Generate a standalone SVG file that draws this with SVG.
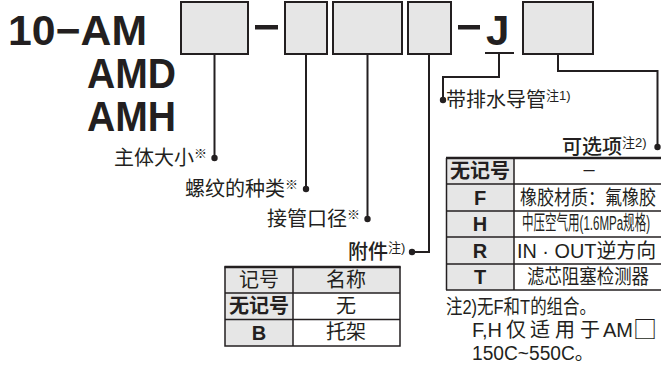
<svg xmlns="http://www.w3.org/2000/svg" width="661" height="367" viewBox="0 0 661 367">
<style>
.box{fill:#e6e6e6;stroke:#231f20;stroke-width:2}
.ln{fill:none;stroke:#231f20;stroke-width:2}
.dot{fill:#231f20}
.big{font-family:"Liberation Sans",Arial,sans-serif;font-weight:bold;font-size:42px;fill:#231f20}
.t{font-family:"Liberation Sans","Noto Sans CJK SC",sans-serif;font-size:20px;fill:#231f20}
.cjk{font-family:"Noto Sans CJK SC",sans-serif}
.b{font-weight:bold}
.m{font-weight:500}
.c{text-anchor:middle}
.sup{font-size:13px;font-weight:normal}
.g{fill:#e6e6e6}
.w{fill:#ffffff}
.grid{fill:none;stroke:#231f20;stroke-width:1.5}
.thick{fill:none;stroke:#231f20;stroke-width:2.5}
</style>

<g id="code">
<text class="big" x="8" y="45" textLength="139" lengthAdjust="spacingAndGlyphs">10−AM</text>
<text class="big" x="87" y="88" textLength="89" lengthAdjust="spacingAndGlyphs">AMD</text>
<text class="big" x="87" y="131" textLength="89" lengthAdjust="spacingAndGlyphs">AMH</text>
<rect x="255" y="25" width="23" height="4.5" fill="#231f20"/>
<rect x="458" y="25" width="22" height="4.5" fill="#231f20"/>
<text class="big" x="486" y="45">J</text>
<line x1="485" y1="53" x2="514" y2="53" stroke="#231f20" stroke-width="2"/>
</g>

<g id="box1"><rect class="box" x="181" y="2" width="67" height="52"/></g>
<g id="box2"><rect class="box" x="285" y="2" width="42" height="52"/></g>
<g id="box3"><rect class="box" x="333" y="2" width="69" height="52"/></g>
<g id="box4"><rect class="box" x="408" y="2" width="43" height="52"/></g>
<g id="box5"><rect class="box" x="523" y="2" width="70" height="52"/></g>

<g id="connectors">
<polyline class="ln" points="214.5,54 214.5,158"/>
<circle class="dot" cx="214.5" cy="158" r="3.2"/>
<polyline class="ln" points="306,54 306,189"/>
<circle class="dot" cx="306" cy="189" r="3.2"/>
<polyline class="ln" points="367.5,54 367.5,219"/>
<circle class="dot" cx="367.5" cy="219" r="3.2"/>
<polyline class="ln" points="429,54 429,252 412,252"/>
<circle class="dot" cx="412" cy="252" r="3.2"/>
<polyline class="ln" points="499,53 499,77 443,77 443,100"/>
<circle class="dot" cx="443" cy="100" r="3.2"/>
<polyline class="ln" points="558,54 558,71 657.5,71 657.5,147"/>
<circle class="dot" cx="657.5" cy="147" r="3.2"/>
</g>

<g id="label-size"><text class="t" x="114" y="165">主体大小<tspan class="sup" dy="-7">※</tspan></text></g>
<g id="label-thread"><text class="t" x="185" y="196">螺纹的种类<tspan class="sup" dy="-7">※</tspan></text></g>
<g id="label-port"><text class="t" x="267" y="226">接管口径<tspan class="sup" dy="-7">※</tspan></text></g>
<g id="label-acc"><text class="t m" x="348" y="259">附件<tspan class="sup" dy="-7">注)</tspan></text></g>
<g id="label-drain"><text class="t" x="446" y="107" font-size="21">带排水导管<tspan class="sup" dy="-7">注1)</tspan></text></g>
<g id="label-opt"><text class="t m" x="562" y="154" font-size="21">可选项<tspan class="sup" dy="-7">注2)</tspan></text></g>

<g id="table-acc">
<rect class="g" x="225" y="267" width="175" height="26"/>
<rect class="g" x="225" y="293" width="68" height="53"/>
<rect class="w" x="293" y="293" width="107" height="53"/>
<line class="grid" x1="225" y1="293" x2="400" y2="293"/>
<line class="grid" x1="225" y1="319.5" x2="400" y2="319.5"/>
<line class="grid" x1="293" y1="267" x2="293" y2="346"/>
<rect class="grid" x="225" y="267" width="175" height="79"/>
<line class="thick" x1="224.5" y1="267" x2="400.5" y2="267"/>
<text class="t c" x="259" y="287">记号</text>
<text class="t c" x="346" y="287">名称</text>
<text class="t c b" x="259" y="313">无记号</text>
<text class="t c" x="346" y="313">无</text>
<text class="t c b" x="259" y="340" font-size="21">B</text>
<text class="t c" x="346" y="339">托架</text>
</g>

<g id="table-opt">
<rect class="g" x="446" y="158" width="68" height="132"/>
<rect class="w" x="514" y="158" width="148" height="132"/>
<line class="grid" x1="446" y1="184" x2="662" y2="184"/>
<line class="grid" x1="446" y1="211" x2="662" y2="211"/>
<line class="grid" x1="446" y1="237" x2="662" y2="237"/>
<line class="grid" x1="446" y1="264" x2="662" y2="264"/>
<line class="grid" x1="446" y1="290" x2="662" y2="290"/>
<line class="grid" x1="514" y1="158" x2="514" y2="290"/>
<line class="grid" x1="446.5" y1="158" x2="446.5" y2="290"/>
<line class="thick" x1="446" y1="158" x2="662" y2="158"/>
<text class="t c b" x="480" y="178" font-size="21">无记号</text>
<text class="t c" x="589" y="176">–</text>
<text class="t c b" x="480" y="205" font-size="22">F</text>
<text class="t" x="520" y="205" textLength="136" lengthAdjust="spacingAndGlyphs">橡胶材质：氟橡胶</text>
<text class="t c b" x="480" y="231" font-size="22">H</text>
<text class="t" x="522" y="230" font-size="16" textLength="128" lengthAdjust="spacingAndGlyphs">中压空气用(1.6MPa规格)</text>
<text class="t c b" x="480" y="258" font-size="22">R</text>
<text class="t" x="517" y="258" textLength="139" lengthAdjust="spacingAndGlyphs">IN · OUT逆方向</text>
<text class="t c b" x="480" y="284" font-size="22">T</text>
<text class="t" x="527" y="284" textLength="122" lengthAdjust="spacingAndGlyphs">滤芯阻塞检测器</text>
</g>

<g id="notes">
<text class="t" x="446" y="314" textLength="150" lengthAdjust="spacingAndGlyphs">注2)无F和T的组合。</text>
<text class="t" y="337"><tspan x="472">F,H</tspan><tspan x="506">仅</tspan><tspan x="530">适</tspan><tspan x="555">用</tspan><tspan x="580">于</tspan><tspan x="603">AM</tspan><tspan class="cjk" x="633" font-size="24" dy="1">□</tspan></text>
<text class="t" x="472" y="360" textLength="122" lengthAdjust="spacingAndGlyphs">150C~550C。</text>
</g>
</svg>
